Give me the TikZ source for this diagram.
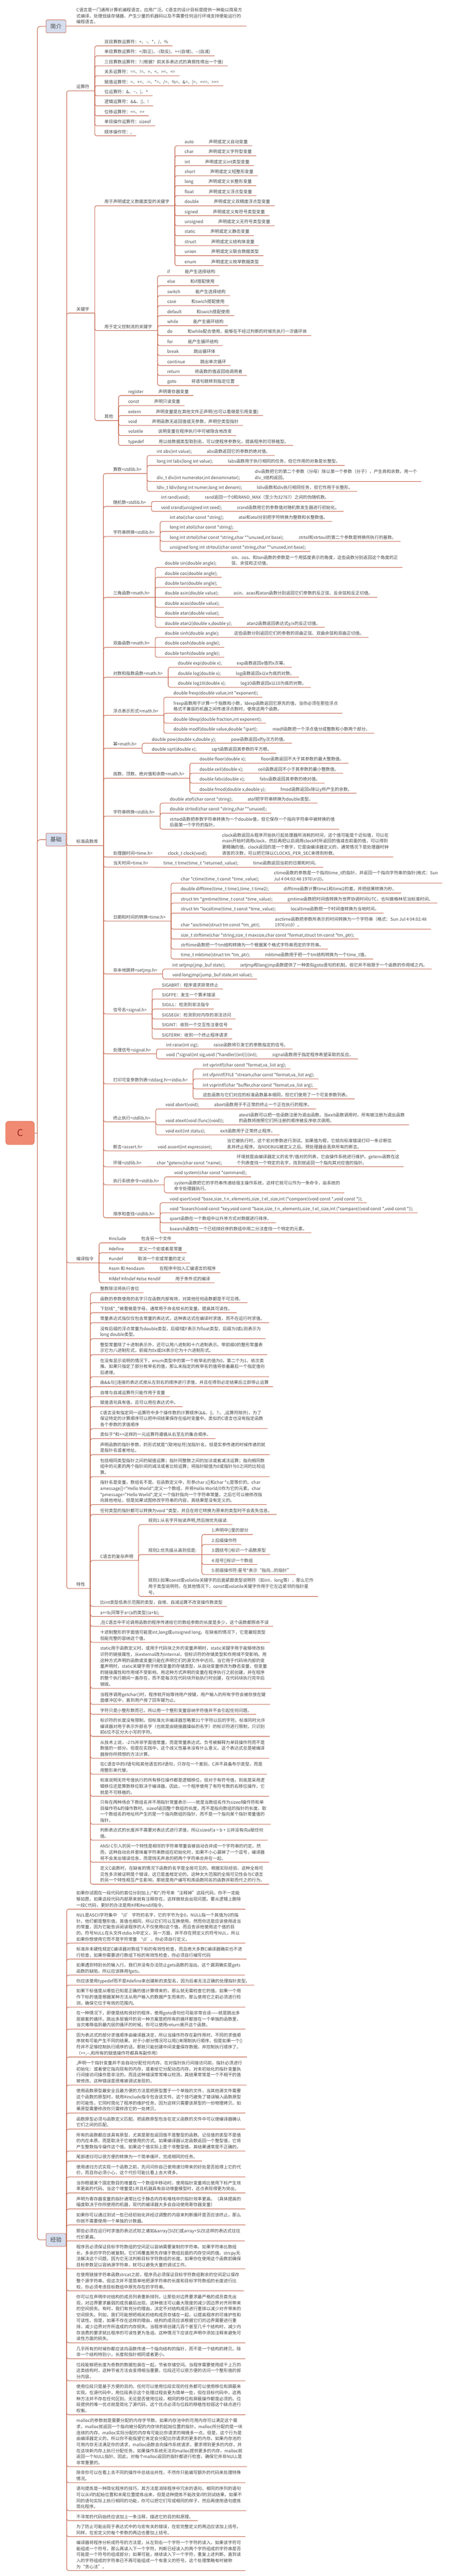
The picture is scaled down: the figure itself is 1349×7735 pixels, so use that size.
\documentclass[tikz,border=0pt]{standalone}
\usepackage{fontspec}
\setmainfont{Noto Sans CJK SC}[Ligatures=TeXOff]
\usetikzlibrary{calc}
\definecolor{lc}{RGB}{197,104,80}
\definecolor{tc}{RGB}{70,70,70}
\definecolor{boxfill}{RGB}{213,221,238}
\definecolor{rootfill}{RGB}{241,138,114}
\definecolor{rootline}{RGB}{222,118,94}
\definecolor{roottext}{RGB}{150,30,34}
\newcommand\fs{\fontsize{13pt}{18pt}\selectfont}
\newcommand\ml[1]{\begin{tabular}[b]{@{}l@{}}#1\end{tabular}}
\newcommand\two[2]{#1\hspace*{45pt}#2}
\newcommand\Q{\textbackslash}
\tikzset{
  ln/.style={draw=lc, line width=1.6pt, rounded corners=6pt},
  tn/.style={anchor=base west, inner sep=0pt, text=tc, font=\fs},
  mainbox/.style={draw=lc, line width=1.2pt, fill=boxfill, rounded corners=4pt, minimum width=60pt, minimum height=39pt, inner sep=0pt, text=tc, font=\fontsize{17pt}{20pt}\selectfont},
}
\newcommand\TN[5]{%
  \path let \p1=(#2) in node[tn] (#1) at (\x1+29pt,-#3pt+7pt) {#5};
  \path let \p2=(#1.east) in coordinate (#1-e) at (\x2+#4pt,-#3pt);
  \draw[ln] let \p1=(#2) in (\x1,\y1) -- (\x1,-#3pt) -- (#1-e);
}
\newcommand\TS[5]{%
  \path let \p1=(#2) in node[tn] (#1) at (\x1+29pt,-#3pt+7pt) {#5};
  \path let \p2=(#1.east) in coordinate (#1-e) at (\x2+#4pt,-#3pt);
  \draw[ln, sharp corners] let \p1=(#2) in (\x1,\y1) -- (\x1,-#3pt) -- (#1-e);
}
\begin{document}
\begin{tikzpicture}[x=1pt,y=-1pt]
\useasboundingbox (0,0) rectangle (1349,7735);
\fill[white] (0,0) rectangle (1349,7735);
% ---------- root and main topics
\node[draw=rootline, line width=1.2pt, fill=rootfill, rounded corners=9pt, minimum width=86pt, minimum height=70pt, inner sep=0pt, text=roottext, font=\fontsize{28pt}{30pt}\selectfont] (root) at (60,3401.9) {C};
\node[mainbox] (jj) at (168,79.2) {简介};
\node[mainbox] (jc) at (168,2521.2) {基础};
\node[mainbox] (jy) at (168,6725.7) {经验};
\draw[ln, rounded corners=9pt] (jj.west) -| (112,3401.9);
\draw[ln, rounded corners=9pt] (jc.west) -| (112,3401.9);
\draw[ln, rounded corners=9pt] (jy.west) -| (112,3401.9);
\draw[ln] (root.east) -- (112,3401.9);
\coordinate (jj-e) at (200,78);
\coordinate (jc-e) at (200,2521.2);
\coordinate (jy-e) at (200,6725.7);
\draw[ln] (198,78) -- (jj-e);
\draw[ln] (jc.east) -- (jc-e);
\draw[ln] (jy.east) -- (jy-e);
% ---------- 简介
\TS{intro}{jj-e}{78}{13}{\ml{C语言是一门通用计算机编程语言，应用广泛。C语言的设计目标是提供一种能以简易方\\式编译、处理低级存储器、产生少量的机器码以及不需要任何运行环境支持便能运行的\\编程语言。}}
% ---------- 基础 level 2
\TN{ysf}{jc-e}{272.7}{16}{运算符}
\TN{gjz}{jc-e}{940.2}{16}{关键字}
\TN{bzk}{jc-e}{2539.2}{16}{标准函数库}
\TN{byzl}{jc-e}{3791.7}{16}{编译指令}
\TN{tx}{jc-e}{4769.7}{16}{特性}
% 运算符
\TN{y1}{ysf-e}{137.7}{13}{双目算数运算符：+、-、*、/、\%}
\TN{y2}{ysf-e}{167.7}{13}{单目算数运算符：+(取正)、-(取反)、++(自增)、--(自减)}
\TN{y3}{ysf-e}{197.7}{13}{三目算数运算符：?:(根据？前关系表达式的真假性得出一个值)}
\TN{y4}{ysf-e}{227.7}{13}{关系运算符：==、!=、>、<、>=、<=}
\TN{y5}{ysf-e}{257.7}{13}{赋值运算符：=、+=、-=、*=、/=、\%=、\&=、|=、<<=、>>=}
\TN{y6}{ysf-e}{287.7}{13}{位运算符：\&、\textasciitilde、|、\textasciicircum}
\TN{y7}{ysf-e}{317.7}{13}{逻辑运算符：\&\&、||、!}
\TN{y8}{ysf-e}{347.7}{13}{位移运算符：<<、>>}
\TN{y9}{ysf-e}{377.7}{13}{单目操作运算符：sizeof}
\TN{y10}{ysf-e}{407.7}{13}{顺序操作符：,}
% 关键字
\TN{k1}{gjz-e}{617.7}{16}{用于声明或定义数据类型的关键字}
\TN{k2}{gjz-e}{992.7}{16}{用于定义控制流的关键字}
\TN{k3}{gjz-e}{1262.7}{16}{其他}
\TN{d1}{k1-e}{437.7}{13}{\two{auto}{声明或定义自动变量}}
\TN{d2}{k1-e}{467.7}{13}{\two{char}{声明或定义字符型变量}}
\TN{d3}{k1-e}{497.7}{13}{\two{int}{声明或定义int类型变量}}
\TN{d4}{k1-e}{527.7}{13}{\two{short}{声明或定义短整形变量}}
\TN{d5}{k1-e}{557.7}{13}{\two{long}{声明或定义长整形变量}}
\TN{d6}{k1-e}{587.7}{13}{\two{float}{声明或定义浮点型变量}}
\TN{d7}{k1-e}{617.7}{13}{\two{double}{声明或定义双精度浮点型变量}}
\TN{d8}{k1-e}{647.7}{13}{\two{signed}{声明或定义有符号类型变量}}
\TN{d9}{k1-e}{677.7}{13}{\two{unsigned}{声明或定义无符号类型变量}}
\TN{d10}{k1-e}{707.7}{13}{\two{static}{声明或定义静态变量}}
\TN{d11}{k1-e}{737.7}{13}{\two{struct}{声明或定义结构体变量}}
\TN{d12}{k1-e}{767.7}{13}{\two{union}{声明或定义联合数据类型}}
\TN{d13}{k1-e}{797.7}{13}{\two{enum}{声明或定义枚举数据类型}}
\TN{c1}{k2-e}{827.7}{13}{\two{if}{能产生选择结构}}
\TN{c2}{k2-e}{857.7}{13}{\two{else}{和if搭配使用}}
\TN{c3}{k2-e}{887.7}{13}{\two{switch}{能产生选择结构}}
\TN{c4}{k2-e}{917.7}{13}{\two{case}{和swich搭配使用}}
\TN{c5}{k2-e}{947.7}{13}{\two{default}{和swich搭配使用}}
\TN{c6}{k2-e}{977.7}{13}{\two{while}{能产生循环结构}}
\TN{c7}{k2-e}{1007.7}{13}{\two{do}{和while配合使用，能够在不经过判断的时候先执行一次循环体}}
\TN{c8}{k2-e}{1037.7}{13}{\two{for}{能产生循环结构}}
\TN{c9}{k2-e}{1067.7}{13}{\two{break}{跳出循环体}}
\TN{c10}{k2-e}{1097.7}{13}{\two{continue}{跳出单次循环}}
\TN{c11}{k2-e}{1127.7}{13}{\two{return}{将函数的值返回给调用者}}
\TN{c12}{k2-e}{1157.7}{13}{\two{goto}{将语句跳转到指定位置}}
\TN{o1}{k3-e}{1187.7}{13}{\two{register}{声明寄存器变量}}
\TN{o2}{k3-e}{1217.7}{13}{\two{const}{声明只读变量}}
\TN{o3}{k3-e}{1247.7}{13}{\two{extern}{声明变量是在其他文件正声明(也可以看做是引用变量)}}
\TN{o4}{k3-e}{1277.7}{13}{\two{void}{声明函数无返回值或无参数，声明空类型指针}}
\TN{o5}{k3-e}{1307.7}{13}{\two{volatile}{说明变量在程序执行中可被隐含地改变}}
\TN{o6}{k3-e}{1337.7}{13}{\two{typedef}{用以给数据类型取别名，可以使程序参数化，提高程序的可移植型。}}
% 标准函数库
\TN{s1}{bzk-e}{1421.7}{16}{算数<stdlib.h>}
\TN{s2}{bzk-e}{1520.7}{16}{随机数<stdlib.h>}
\TN{s3}{bzk-e}{1610.7}{16}{字符串转换<stdlib.h>}
\TN{s4}{bzk-e}{1793.7}{16}{三角函数<math.h>}
\TN{s5}{bzk-e}{1943.7}{16}{双曲函数<math.h>}
\TN{s6}{bzk-e}{2033.7}{16}{对数和指数函数<math.h>}
\TN{s7}{bzk-e}{2147.7}{16}{浮点表示形式<math.h>}
\TN{s8}{bzk-e}{2246.7}{16}{幂<math.h>}
\TN{s9}{bzk-e}{2336.7}{16}{底数、顶数、绝对值和余数<math.h>}
\TN{s10}{bzk-e}{2450.7}{16}{字符串转换<stdlib.h>}
\TN{s11}{bzk-e}{2573.7}{16}{处理器时间<time.h>}
\TN{s12}{bzk-e}{2603.7}{16}{当天时间<time.h>}
\TN{s13}{bzk-e}{2765.7}{16}{日期和时间的转换<time.h>}
\TN{s14}{bzk-e}{2924.7}{16}{非本地跳转<setjmp.h>}
\TN{s15}{bzk-e}{3044.7}{16}{信号名<signal.h>}
\TN{s16}{bzk-e}{3164.7}{16}{处理信号<signal.h>}
\TN{s17}{bzk-e}{3254.7}{16}{打印可变参数列表<stdarg.h><stdio.h>}
\TN{s18}{bzk-e}{3368.7}{16}{终止执行<stdlib.h>}
\TN{s19}{bzk-e}{3455.7}{16}{断言<assert.h>}
\TN{s20}{bzk-e}{3503.7}{16}{环境<stdlib.h>}
\TN{s21}{bzk-e}{3557.7}{16}{执行系统命令<stdlib.h>}
\TN{s22}{bzk-e}{3656.7}{16}{排序和查找<stdlib.h>}
\TN{s1a}{s1-e}{1367.7}{13}{\two{int abs(int value);}{abs函数返回它的参数的绝对值。}}
\TN{s1b}{s1-e}{1397.7}{13}{\two{long int labs(long int value);}{labs函数用于执行相同的任务，但它作用的对象是长整型。}}
\TN{s1c}{s1-e}{1445.7}{13}{\two{div\_t div(int numerator,int denominator);}{\ml{div函数把它的第二个参数（分母）除以第一个参数（分子），产生商和余数，用一个\\div\_t结构返回。}}}
\TN{s1d}{s1-e}{1475.7}{13}{\two{ldiv\_t ldiv(long int numer,long int denom);}{ldiv函数和div执行相同任务，但它作用于长整形。}}
\TN{s2a}{s2-e}{1505.7}{13}{\two{int rand(void);}{rand返回一个0和RAND\_MAX（至少为32767）之间的伪随机数。}}
\TN{s2b}{s2-e}{1535.7}{13}{\two{void srand(unsigned int seed);}{srand函数用它的参数值对随机数发生器进行初始化。}}
\TN{s3a}{s3-e}{1565.7}{13}{\two{int atoi(char const *string);}{atoi和atol分别把字符转换为整数和长整数值。}}
\TN{s3b}{s3-e}{1595.7}{13}{long int atol(char const *string);}
\TN{s3c}{s3-e}{1625.7}{13}{\two{long int strtol(char const *string,char **unused,int base);}{strtol和strtoul的第二个参数是转换所执行的基数。}}
\TN{s3d}{s3-e}{1655.7}{13}{unsigned long int strtoul(char const *string,char **unused,int base);}
\TN{s4a}{s4-e}{1703.7}{13}{\two{double sin(double angle);}{\ml{sin、cos、和tan函数的参数是一个用弧度表示的角度，这些函数分别返回这个角度的正\\弦、余弦和正切值。}}}
\TN{s4b}{s4-e}{1733.7}{13}{double cos(double angle);}
\TN{s4c}{s4-e}{1763.7}{13}{double tan(double angle);}
\TS{s4d}{s4-e}{1793.7}{13}{\two{double asin(double value);}{asin、acos和atan函数分别返回它们参数的反正弦、反余弦和反正切值。}}
\TN{s4e}{s4-e}{1823.7}{13}{double acos(double value);}
\TN{s4f}{s4-e}{1853.7}{13}{double atan(double value);}
\TN{s4g}{s4-e}{1883.7}{13}{\two{double atan2(double x,double y);}{atan2函数返回表达式y/x的反正切值。}}
\TN{s5a}{s5-e}{1913.7}{13}{\two{double sinh(double angle);}{这些函数分别返回它们的参数的双曲正弦、双曲余弦和双曲正切值。}}
\TS{s5b}{s5-e}{1943.7}{13}{double cosh(double angle);}
\TN{s5c}{s5-e}{1973.7}{13}{double tanh(double angle);}
\TN{s6a}{s6-e}{2003.7}{13}{\two{double exp(double x);}{exp函数返回e值的x次幂。}}
\TS{s6b}{s6-e}{2033.7}{13}{\two{double log(double x);}{log函数返回x以e为底的对数。}}
\TN{s6c}{s6-e}{2063.7}{13}{\two{double log10(double x);}{log10函数返回x以10为底的对数。}}
\TN{s7a}{s7-e}{2093.7}{13}{double frexp(double value,int *exponent);}
\TN{s7b}{s7-e}{2141.7}{13}{\ml{frexp函数用于计算一个指数和小数，ldexp函数返回它原先的值，当你必须在那些浮点\\格式不兼容的机器之间传递浮点数时，使用这两个函数。}}
\TN{s7c}{s7-e}{2171.7}{13}{double ldexp(double fraction,int exponent);}
\TN{s7d}{s7-e}{2201.7}{13}{\two{double modf(double value,double *ipart);}{modf函数把一个浮点值分成整数和小数两个部分。}}
\TN{s8a}{s8-e}{2231.7}{13}{\two{double pow(double x,double y);}{pow函数返回x的y次方的值。}}
\TN{s8b}{s8-e}{2261.7}{13}{\two{double sqrt(double x);}{sqrt函数返回其参数的平方根。}}
\TN{s9a}{s9-e}{2291.7}{13}{\two{double floor(double x);}{floor函数返回不大于其参数的最大整数值。}}
\TN{s9b}{s9-e}{2321.7}{13}{\two{double ceil(double x);}{ceil函数返回不小于其参数的最小整数值。}}
\TN{s9c}{s9-e}{2351.7}{13}{\two{double fabs(double x);}{fabs函数返回其参数的绝对值。}}
\TN{s9d}{s9-e}{2381.7}{13}{\two{double fmod(double x,double y);}{fmod函数返回x除以y所产生的余数。}}
\TN{s10a}{s10-e}{2411.7}{13}{\two{double atof(char const *string);}{atof把字符串转换为double类型。}}
\TN{s10b}{s10-e}{2441.7}{13}{double strtod(char const *string,char **unused);}
\TN{s10c}{s10-e}{2489.7}{13}{\ml{strtod函数把参数字符串转换为一个double值，但它保存一个指向字符串中被转换的值\\后面第一个字符的指针。}}
\TS{s11a}{s11-e}{2573.7}{13}{\two{clock\_t clock(void);}{\ml{clock函数返回从程序开始执行起处理器所消耗的时间，这个值可能是个近似值，可以在\\main开始时调用clock，然后再把以后调用clock时所返回的值减去前面的值，可以得到\\更精确的值。clock返回的是一个数字，它是由编译器定义的，通常情况下是处理器时钟\\滴答的次数，可以把它除以CLOCKS\_PER\_SEC来得到秒数。}}}
\TS{s12a}{s12-e}{2603.7}{13}{\two{time\_t time(time\_t *returned\_value);}{time函数返回当前的日期和时间。}}
\TN{s13a}{s13-e}{2651.7}{13}{\two{char *ctime(time\_t const *time\_value);}{\ml{ctime函数的参数是一个指向time\_t的指针，并返回一个指向字符串的指针(格式：Sun\\Jul 4 04:02:48 1976\Q n\Q 0)。}}}
\TN{s13b}{s13-e}{2681.7}{13}{\two{double difftime(time\_t time1,time\_t time2);}{difftime函数计算time1和time2的差，并把结果转换为秒。}}
\TN{s13c}{s13-e}{2711.7}{13}{\two{struct tm *gmtime(time\_t const *time\_value);}{gmtime函数把时间值转换为世界协调时间UTC，也叫做格林尼治标准时间。}}
\TN{s13d}{s13-e}{2741.7}{13}{\two{struct tm *localtime(time\_t const *time\_value);}{localtime函数把一个时间值转换为当地时间。}}
\TN{s13e}{s13-e}{2789.7}{13}{\two{char *asctime(struct tm const *tm\_ptr);}{\ml{asctime函数把参数所表示的时间转换为一个字符串（格式：Sun Jul 4 04:02:48\\1976\Q n\Q 0）。}}}
\TN{s13f}{s13-e}{2819.7}{13}{size\_t strftime(char *string,size\_t maxsize,char const *format,struct tm const *tm\_ptr);}
\TN{s13g}{s13-e}{2849.7}{13}{strftime函数把一个tm结构转换为一个根据某个格式字符串而定的字符串。}
\TN{s13h}{s13-e}{2879.7}{13}{\two{time\_t mktime(struct tm *tm\_ptr);}{mktime函数用于把一个tm结构转换为一个time\_t值。}}
\TN{s14a}{s14-e}{2909.7}{13}{\two{int setjmp(jmp\_buf state);}{setjmp和longjmp函数提供了一种类似goto语句的机制，但它并不局限于一个函数的作用域之内。}}
\TN{s14b}{s14-e}{2939.7}{13}{void longjmp(jump\_buf state,int value);}
\TN{s15a}{s15-e}{2969.7}{13}{SIGABRT：程序请求异常终止}
\TN{s15b}{s15-e}{2999.7}{13}{SIGFPE：发生一个算术错误}
\TN{s15c}{s15-e}{3029.7}{13}{SIGILL：检测到非法指令}
\TN{s15d}{s15-e}{3059.7}{13}{SIGSEGV：检测到对内存的非法访问}
\TN{s15e}{s15-e}{3089.7}{13}{SIGINT：收到一个交互性注意信号}
\TN{s15f}{s15-e}{3119.7}{13}{SIGTERM：收到一个终止程序请求}
\TN{s16a}{s16-e}{3149.7}{13}{\two{int raise(int sig);}{raise函数将引发它的参数指定的信号。}}
\TN{s16b}{s16-e}{3179.7}{13}{\two{void (*signal(int sig,void (*handler)(int)))(int);}{signal函数用于指定程序希望采取的反应。}}
\TN{s17a}{s17-e}{3209.7}{13}{int vprintf(char const *format,va\_list arg);}
\TN{s17b}{s17-e}{3239.7}{13}{int vfprintf(FILE *stream,char const *format,va\_list arg);}
\TN{s17c}{s17-e}{3269.7}{13}{int vsprintf(char *buffer,char const *format,va\_list arg);}
\TN{s17d}{s17-e}{3299.7}{13}{这些函数与它们对应的标准函数基本相同，但它们使用了一个可变参数列表。}
\TN{s18a}{s18-e}{3329.7}{13}{\two{void abort(void);}{abort函数用于不正常的终止一个正在执行的程序。}}
\TN{s18b}{s18-e}{3377.7}{13}{\two{void atexit(void (func)(void));}{\ml{atexit函数可以把一些函数注册为退出函数。当exit函数调用时，所有被注册为退出函数\\的函数将按照它们所注册的顺序被反序依次调用。}}}
\TN{s18c}{s18-e}{3407.7}{13}{\two{void exit(int status);}{exit函数用于正常终止程序。}}
\TS{s19a}{s19-e}{3455.7}{13}{\two{void assert(int expression);}{\ml{当它被执行时，这个宏对参数进行测试。如果值为假，它就向标准错误打印一条诊断信\\息并终止程序。当NDEBUG被定义之后，预处理器会丢弃所有的断言。}}}
\TS{s20a}{s20-e}{3503.7}{13}{\two{char *getenv(char const *name);}{\ml{环境就是由编译器定义的名字/值对的列表，它由操作系统进行维护。getenv函数在这\\个列表查找一个特定的名字，找到就返回一个指向其对应值的指针。}}}
\TN{s21a}{s21-e}{3533.7}{13}{void system(char const *command);}
\TN{s21b}{s21-e}{3581.7}{13}{\ml{system函数把它的字符串传递给宿主操作系统，这样它就可以作为一条命令，由系统的\\命令处理器执行。}}
\TN{s22a}{s22-e}{3611.7}{13}{void qsort(void *base,size\_t n\_elements,size\_t el\_size,int (*compare)(void const *,void const *));}
\TN{s22b}{s22-e}{3641.7}{13}{void *bsearch(void const *key,void const *base,size\_t n\_elements,size\_t el\_size,int (*compare)(void const *,void const *));}
\TN{s22c}{s22-e}{3671.7}{13}{qsort函数在一个数组中以升序方式对数据进行排序。}
\TN{s22d}{s22-e}{3701.7}{13}{bsearch函数在一个已经排好序的数组中用二分法查找一个特定的元素。}
% 编译指令
\TN{b1}{byzl-e}{3731.7}{13}{\two{\#include}{包含另一个文件}}
\TN{b2}{byzl-e}{3761.7}{13}{\two{\#define}{定义一个宏或者是常量}}
\TS{b3}{byzl-e}{3791.7}{13}{\two{\#undef}{取消一个宏或常量的定义}}
\TN{b4}{byzl-e}{3821.7}{13}{\two{\#asm 和 \#endasm}{在程序中加入汇编语言的程序}}
\TN{b5}{byzl-e}{3851.7}{13}{\two{\#ifdef \#ifndef \#else \#endif}{用于条件式的编译}}
% 特性
\TN{t1}{tx-e}{3881.7}{13}{整数除法将执行舍位}
\TN{t2}{tx-e}{3911.7}{13}{函数的参数使用的名字只在函数内部有效，对其他任何函数都是不可见得。}
\TN{t3}{tx-e}{3941.7}{13}{下划线"\_"被看做是字母，通常用于命名较长的变量，提高其可读性。}
\TN{t4}{tx-e}{3971.7}{13}{常量表达式指仅仅包含常量的表达式，这种表达式在编译时求值，而不在运行时求值。}
\TN{t5}{tx-e}{4019.7}{13}{\ml{没有后缀的浮点常量为double类型，后缀f或F表示为float类型，后缀为l或L则表示为\\long double类型。}}
\TN{t6}{tx-e}{4067.7}{13}{\ml{整型常量除了十进制表示外，还可以用八进制和十六进制表示。带前缀0的整形常量表\\示它为八进制形式，前缀为0x或0X表示它为十六进制形式。}}
\TN{t7}{tx-e}{4133.7}{13}{\ml{在没有显示说明的情况下，enum类型中的第一个枚举名的值为0，第二个为1，依次类\\推。如果只指定了部分枚举名的值，那么未指定的枚举名的值将依着最后一个指定值向\\后递增。}}
\TN{t8}{tx-e}{4163.7}{13}{由\&\&与||连接的表达式按从左到右的顺序进行求值，并且在得到必定结果后立即停止运算}
\TN{t9}{tx-e}{4193.7}{13}{自增与自减运算符只能作用于变量}
\TN{t10}{tx-e}{4223.7}{13}{赋值语句具有值，且可以用在表达式中。}
\TN{t11}{tx-e}{4289.7}{13}{\ml{C语言没有指定同一运算符中多个操作数的计算顺序(\&\&、||、?:、,运算符除外)，为了\\保证特定的计算顺序可以把中间结果保存在临时变量中。类似的C语言也没有指定函数\\各个参数的求值顺序}}
\TN{t12}{tx-e}{4319.7}{13}{类似于*和++这样的一元运算符遵循从右至左的集合顺序。}
\TN{t13}{tx-e}{4367.7}{13}{\ml{声明函数的指针参数，的形式就是*(取地址符)加指针名，但是实参传递的时候传递的就\\是指针名或者地址。}}
\TN{t14}{tx-e}{4433.7}{13}{\ml{包括相同类型指针之间的赋值运算；指针同整数之间的加法或者减法运算；指向相同数\\组中的元素的两个指针间的减法或者比较运算；将指针赋值为0或指针与0之间的比较运\\算。}}
\TN{t15}{tx-e}{4517.7}{13}{\ml{指针名是变量，数组名不是。在函数定义中，形参char s[]和char *s;是等价的。char\\amessage[]="Hello World";定义一个数组，并将Hollo World/0作为它的元素。char\\{}*pmessage="Hello World";定义一个指针指向一个字符串常量，之后它可以被修改指\\向其他地址，但是如果试图修改字符串的内容，其结果是没有定义的。}}
\TN{t16}{tx-e}{4547.7}{13}{任何类型的指针都可以转换为void *类型，并且在将它转换为原来的类型时不会丢失信息。}
\TN{t17}{tx-e}{4685.7}{16}{C语言的复杂声明}
\TN{t17a}{t17-e}{4577.7}{13}{规则1:从名字开始读声明,然后按优先级读.}
\TN{t17b}{t17-e}{4667.7}{16}{规则2:优先级从高到低是:}
\TN{t17c}{t17-e}{4793.7}{13}{\ml{规则3:如果const或volatile关键字的后面紧跟类型说明符（如int，long等），那么它作\\用于类型说明符。在其他情况下，const或volatile关键字作用于它左边紧邻的指针星\\号。}}
\TN{r1}{t17b-e}{4607.7}{13}{1:声明中()里的部分}
\TN{r2}{t17b-e}{4637.7}{13}{2:后缀操作符}
\TS{r3}{t17b-e}{4667.7}{13}{3:圆括号()标识一个函数原型}
\TN{r4}{t17b-e}{4697.7}{13}{4:括号[]标识一个数组}
\TN{r5}{t17b-e}{4727.7}{13}{5:前缀操作符:星号*表示“指向...的指针”}
\TN{t18}{tx-e}{4823.7}{13}{比int类型低表示范围的类型，自增、自减运算不改变操作数类型}
\TN{t19}{tx-e}{4853.7}{13}{a+=b;同等于a=(a的类型)(a+b);}
\TN{t20}{tx-e}{4883.7}{13}{,在C语言中不论调用函数的程序传递给它的数组参数的长度是多少，这个函数都照收不误}
\TN{t21}{tx-e}{4931.7}{13}{\ml{十进制整形的字面值可能是int,long或unsigned long。在缺省的情况下，它是最短类型\\但能完整的容纳这个值。}}
\TN{t22}{tx-e}{5069.7}{13}{\ml{static用于函数定义时，或用于代码块之外的变量声明时，static关键字用于能够修改标\\识符的链接属性，从external改为internal，但标识符的存储类型和作用域不受影响。用\\这种方式声明的函数或变量只能在声明它们的源文件中访问。当它用于代码块内部的变\\量声明时，static关键字用于修改变量的存储类型，从自动变量修改为静态变量，但变量\\的链接属性和作用域不受影响。用这种方式声明的变量在程序执行之前创建，并在程序\\的整个执行期间一直存在，而不是每次在代码块开始执行时创建，在代码块执行完毕后\\销毁。}}
\TN{t23}{tx-e}{5117.7}{13}{\ml{当程序调用getchar()时，程序就开始等待用户按键，用户输入的所有字符会被存放在键\\盘缓冲区中，直到用户按了回车键为止。}}
\TN{t24}{tx-e}{5147.7}{13}{字符只是小整形数而已，所以用一个整形变量容纳字符值并不会引起任何问题。}
\TN{t25}{tx-e}{5213.7}{13}{\ml{标识符的长度没有限制，但标准允许编译器忽略第31个字符以后的字符。标准同时允许\\编译器对用于表示外部名字（也就是由链接器操纵的名字）的标识符进行限制，只识别\\前6位不区分大小写的字符。}}
\TN{t26}{tx-e}{5279.7}{13}{\ml{从技术上说，-275并非字面值常量，而是常量表达式。负号被解释为单目操作符而不是\\数值的一部分。但是在实践中，这个歧义性基本没有什么意义。这个表达式总是被编译\\器按你所预想的方法计算。}}
\TN{t27}{tx-e}{5327.7}{13}{\ml{在C语言中的if语句和其他语言的if语句，只存在一个差别。C并不具备布尔类型，而是\\用整形来代替。}}
\TN{t28}{tx-e}{5393.7}{13}{\ml{标准说明无符号值执行的所有移位操作都是逻辑移位，但对于有符号值，到底是采用逻\\辑移位还是算数移位取决于编译器。因此，一个程序使用了有符号数的右移位操作，它\\就是不可移植的。}}
\TN{t29}{tx-e}{5477.7}{13}{\ml{只有在两种场合下数组名并不用指针常量表示------就是当数组名作为sizeof操作符和单\\目操作符\&的操作数时。sizeof返回整个数组的长度，而不是指向数组的指针的长度。取\\一个数组名的地址所产生的是一个指向数组的指针，而不是一个指向某个指针常量值的\\指针。}}
\TN{t30}{tx-e}{5525.7}{13}{\ml{判断表达式的长度并不需要对表达式进行求值，所以sizeof(a = b + 1)并没有向a赋任何\\值。}}
\TN{t31}{tx-e}{5591.7}{13}{\ml{ANSI C引入的另一个特性是相邻的字符串常量会被自动合并成一个字符串的约定。然\\而，这种自动合并意味着字符串数组在初始化时，如果不小心漏掉了一个逗号，编译器\\将不会发出错误信息，而是悄无声息的把两个字符串合并在一起。}}
\TN{t32}{tx-e}{5657.7}{13}{\ml{定义C函数时，在缺省的情况下函数的名字是全局可见的。根据实际经验，这种全局可\\见性多次被证明是个错误，这已是盖棺定论的。这种太大范围的全局可见性会与C语言\\的另一个特性相互产生影响，那就是用户编写和库函数同名的函数并取而代之的行为。}}
% ---------- 经验
\TN{e1}{jy-e}{5732.7}{13}{\ml{如果你试图在一段代码的首位分别加上/*和*/符号来“注释掉”这段代码，你不一定能\\够如愿。如果这段代码内部原来就有注释存在，这样做就会出现问题。要从逻辑上删除\\一段C代码，更好的办法是用\#if和\#endif指令。}}
\TN{e2}{jy-e}{5834.7}{13}{\ml{NUL是ASCII字符集中 ‘\Q 0’ 字符的名字，它的字节为全0，NULL指一个其值为0的指\\针。他们都是整形值，其值也相同，所以它们可以互换使用。然而你还是应该使用适当\\的常量，因为它能告诉阅读程序的人不仅使用0这个值，而且告诉他使用这个值的目\\的。符号NULL在头文件stdio.h中定义，另一方面，并不存在预定义的符号NUL，所以\\如果你想使用它而不是字符常量 ‘\Q 0’，你必须自行定义。}}
\TN{e3}{jy-e}{5882.7}{13}{\ml{标准并未硬性规定C编译器对数组下标的有效性检查，而且绝大多数C编译器确实也不进\\行检查，如果你需要进行数组下标的有效性检查，你必须自行编写代码}}
\TN{e4}{jy-e}{5930.7}{13}{\ml{如果遇到特别长的输入行，我们并没有办法防止gets函数的溢出。这个漏洞确实是gets\\函数的缺陷，所以应该换用fgets。}}
\TN{e5}{jy-e}{5960.7}{13}{你应该使用typedef而不是\#define来创建新的类型名，因为后者无法正确的处理指针类型。}
\TN{e6}{jy-e}{6026.7}{13}{\ml{如果下标值是从哪些已知是正确的值计算得来的，那么就无需检查它的值。如果一个用\\作下标的值是根据某种方法从用户输入的数据产生而来的，那么使用它之前必须进行检\\测，确保它位于有效的范围内。}}
\TN{e7}{jy-e}{6092.7}{13}{\ml{在一种情况下，即使是结构良好的程序，使用goto语句也可能非常合适——就是跳出多\\层嵌套的循环。跳出多层循环的另一种方案是把所有的循环都放在一个单独的函数里，\\当灾难降临到最内层的循环的时候，你可以使用return离开这个函数。}}
\TN{e8}{jy-e}{6176.7}{13}{\ml{因为表达式的部分求值顺序由编译器决定，所以当操作符存在副作用时，不同的求值顺\\序就有可能产生不同的结果。对于小部分情况可以用()来限制执行顺序，但是如果一个()\\符并不足够控制执行顺序的话，那就只能创建中间变量保存数据，并控制执行顺序了。\\（++,--,和所有的赋值操作符都具有副作用）}}
\TN{e9}{jy-e}{6260.7}{13}{\ml{,声明一个指针变量并不会自动分配任何内存。在对指针执行间接访问前，指针必须进行\\初始化：或者使它指向现有的内存，或者给它分配动态内存。对未初始化的指针变量执\\行间接访问操作是非法的，而且这种错误常常难以检测。其结果常常是一个不相干的值\\被修改。这种错误是很难被调试发现的。}}
\TN{e10}{jy-e}{6344.7}{13}{\ml{使用函数原型最安全且最方便的方法是把原型置于一个单独的文件，当其他源文件需要\\这个函数的原型时，就用\#include指令包含该文件。这个技巧避免了错误输入函数原型\\的可能性，它同时简化了程序的维护任务，因为这样只需要该原型的一份物理拷贝。如\\果原型需要修改你只需修改它的一处拷贝。}}
\TN{e11}{jy-e}{6392.7}{13}{\ml{函数原型必须与函数定义匹配。把函数原型包含在定义函数的文件中可以使编译器确认\\它们之间的匹配。}}
\TN{e12}{jy-e}{6458.7}{13}{\ml{所有的函数都应该具有原型，尤其是那些返回值不是整型的函数。记住值的类型不是值\\的内在本质，而是取决于它被使用的方式。如果编译器认定函数返回一个整型值，它将\\产生整数指令操作这个值。如果这个值实际上是个非整型值，其结果通常是不正确的。}}
\TN{e13}{jy-e}{6488.7}{13}{尾部递归可以很方便的转换为一个简单循环，完成相同的任务。}
\TN{e14}{jy-e}{6536.7}{13}{\ml{使用递归方式实现一个函数之前，先问问你自己使用递归带来的好处是否抵得上它的代\\价。而且你必须小心，这个代价可能比看上去大得多。}}
\TN{e15}{jy-e}{6584.7}{13}{\ml{当你根据某个固定数目的增量在一个数组中移动时，使用指针变量将比使用下标产生效\\率更高的代码。当这个增量是1并且机器具有自动增量模型时，这点表现得更为突出。}}
\TN{e16}{jy-e}{6632.7}{13}{\ml{声明为寄存器变量的指针通常比位于静态内存和堆栈中的指针效率更高。（具体提高的\\幅度取决于你所使用的机器，现代的编译器大多会自动使用寄存器变量）}}
\TN{e17}{jy-e}{6680.7}{13}{\ml{如果你可以通过测试一些已经初始化并经过调整的内容来判断循环是否应该终止，那么\\你就不需要使用一个单独的计数器。}}
\TS{e18}{jy-e}{6728.7}{13}{\ml{那些必须在运行时求值的表达式较之诸如\&array[SIZE]或array+SIZE这样的表达式往往\\代价更高。}}
\TN{e19}{jy-e}{6812.7}{13}{\ml{程序员必须保证目标字符数组的空间足以容纳需要复制的字符串。如果字符串比数组\\长，多余的字符仍被复制，它们将覆盖原先存储于数组后面的内存空间的值。strcpy无\\法解决这个问题，因为它无法判断目标字符数组的长度。如果你在使用这个函数前确保\\目标参数足以容纳源字符串，就可以避免大量的调试工作。}}
\TN{e20}{jy-e}{6878.7}{13}{\ml{在使用链接字符串函数strcat之前，程序员必须保证目标字符数组剩余的空间足以保存\\整个源字符串。但这次并不是简单地把源字符串的长度和目标字符数组的长度进行比\\较，你必须考虑目标数组中原先存在的字符串。}}
\TN{e21}{jy-e}{7034.7}{13}{\ml{你可以在声明中对结构的成员列表重新排列，让那些对边界要求最严格的成员首先出\\现，对边界要求最弱的成员最后出现。这种做法可以最大限度的减少因边界对齐所带来\\的空间损失。有时，我们有充分的理由，决定不对结构成员进行重排以减少对齐带来的\\空间损失。列如，我们可能想把相关的结构成员存储在一起，以提高程序的可维护性和\\可读性。但是，如果不存在这样的理由，结构的成员应该根据它们的边界需要进行重\\排，减少边界对齐所造成的内存损失。当程序将创建几百个甚至几千个结构时，减少内\\存浪费的要求就比程序的可读性更为急迫。这种情况下应该在声明中添加注释来避免可\\读性方面的损失。}}
\TN{e22}{jy-e}{7082.7}{13}{\ml{几乎所有的时候你都应该向函数传递一个指向结构的指针，而不是一个结构的拷贝。除\\非一个结构特别小，长度和指针相同或者更小。}}
\TN{e23}{jy-e}{7148.7}{13}{\ml{位段能够把长度为奇数的数据包装在一起，节省存储空间。当程序需要使用成千上万的\\这类结构时，这种节省方法会变得相当重要。位段还可以很方便的访问一个整形值的部\\分内容。}}
\TN{e24}{jy-e}{7250.7}{13}{\ml{使用位段只是基于方便的目的。任何可以使用位段实现的任务都可以使用移位和屏蔽来\\实现。在源代码中，用位段表示这个处理过程会更为简单一些，但在目标代码中，这两\\种方法并不存在任何区别。无论是否使用位段，相同的移位和屏蔽操作都是必须的。位\\段提供的唯一优点就是简化了源代码，这个优点必须与位段的移植性较弱这个缺点进行\\权衡。}}
\TN{e25}{jy-e}{7406.7}{13}{\ml{malloc的参数就是需要分配的内存字节数。如果内存池中的可用内存可以满足这个需\\求，malloc就返回一个指向被分配的内存块的起始位置的指针。malloc所分配的是一块\\连续的内存。malloc实际分配的内存有可能比你请求的稍微多一点。但是，这个行为是\\由编译器定义的，所以你不能指望它肯定会分配比你请求的更多的内存。如果内存池的\\可用内存无法满足你的请求，malloc函数会向操作系统请求，要求得到更多的内存，并\\在这块新内存上执行分配任务。如果操作系统无法向malloc提供更多的内存，malloc就\\返回一个NULL指针。因此，对每个malloc返回的指针都进行检查，确保它并非NULL是\\非常重要的。}}
\TN{e26}{jy-e}{7454.7}{13}{\ml{除非你可以在看上去不同的操作中总结出共性，不然你只能编写额外的代码来处理特殊\\情况。}}
\TN{e27}{jy-e}{7538.7}{13}{\ml{语句提炼是一种简化程序的技巧，其方法是消除程序中冗余的语句。相同的序列的语句\\可以从if的起始位置和末尾位置提炼出来，但是这种提炼不能改变if的测试结果。如果不\\同的语句实际上执行相同的功能，你可以把它们写成相同的样子，然后再使用语句提炼\\简化程序。}}
\TN{e28}{jy-e}{7568.7}{13}{不寻常的代码始终应该加上一条注释，描述它的目的和原理。}
\TN{e29}{jy-e}{7616.7}{13}{\ml{为了防止可能出现于表达式中的与宏有关的错误，在宏完整定义的两边应该加上括号。\\同样，在宏定义的每个参数的两边也要加上括号。}}
\TN{e30}{jy-e}{7718.7}{13}{\ml{编译器将程序分析成符号的方法是，从左到右一个字符一个字符的读入，如果该字符可\\能组成一个符号，那么再读入下一个字符，判断已经读入的两个字符组成的字符串是否\\可能是一个符号的组成部分；如果可能，继续读入下一个字符，重复上述判断，直到读\\入的字符组成的字符串已不再可能组成一个有意义的符号。这个处理策略有时被称\\为“贪心法”。}}
\end{tikzpicture}
\end{document}
